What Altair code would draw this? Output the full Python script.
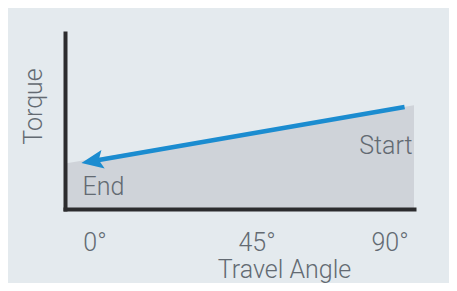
import json
import altair as alt
import pandas as pd

# ---- data ----
area_angle = [0, 100]
area_torque = [25.9, 59.0]

line_angle = [97.3, 7.6]
line_torque = [58.0, 27.1]

arrow_angle = [4.7]
arrow_torque = [26.1]

tick_pos = [8.45, 54.9, 93.0]
tick_labels = ["0°", "45°", "90°"]

note_text = ["Start", "End"]
note_angle = [99.6, 5.0]
note_torque = [31.2, 8.0]
note_align = ["right", "left"]

BG = "#e4eaee"
GRAY = "#cfd3d9"
BLUE = "#1b8cd0"
TXT = "#636a72"
AXC = "#2c2c2e"
FONT = "Roboto"
FS = 25

area_df = pd.DataFrame({"angle": area_angle, "torque": area_torque})
line_df = pd.DataFrame({"angle": line_angle, "torque": line_torque})
arrow_df = pd.DataFrame({"angle": arrow_angle, "torque": arrow_torque})
note_df = pd.DataFrame({"angle": note_angle, "torque": note_torque,
                        "text": note_text, "align": note_align})

xs = alt.Scale(domain=[0, 100], nice=False, zero=False)
ys = alt.Scale(domain=[0, 100], nice=False, zero=False)

label_expr = "%s[indexof(%s, datum.value)]" % (
    json.dumps(tick_labels, ensure_ascii=False), json.dumps(tick_pos))

x_axis = alt.Axis(
    title="Travel Angle", values=tick_pos, labelExpr=label_expr,
    ticks=False, tickSize=0, grid=False,
    domainColor=AXC, domainWidth=4, domainCap="square",
    labelFont=FONT, labelFontSize=FS, labelFontWeight=300, labelColor=TXT,
    labelBaseline="alphabetic", labelPadding=41, labelOverlap=False, labelFlush=False,
    titleFont=FONT, titleFontSize=FS, titleFontWeight=300, titleColor=TXT,
    titleBaseline="alphabetic", titleAlign="center", titleX=219, titleY=68,
    zindex=1,
)
y_axis = alt.Axis(
    title="Torque", labels=False, ticks=False, tickSize=0, grid=False,
    domainColor=AXC, domainWidth=4, domainCap="square",
    titleFont=FONT, titleFontSize=FS, titleFontWeight=300, titleColor=TXT,
    titleAngle=270, titleBaseline="alphabetic", titleAlign="center",
    titleX=-24, titleY=73, zindex=1,
)

X = alt.X("angle:Q", scale=xs, axis=x_axis)
Y = alt.Y("torque:Q", scale=ys, axis=y_axis)

area = alt.Chart(area_df).mark_area(color=GRAY, opacity=1).encode(x=X, y=Y)

line = alt.Chart(line_df).mark_line(
    color=BLUE, strokeWidth=4.5, strokeCap="butt").encode(x=X, y=Y)

arrow = alt.Chart(arrow_df).mark_point(
    shape="M0,0L2,-0.85L1.6,0L2,0.85Z", size=484, angle=350,
    filled=True, color=BLUE, opacity=1, strokeWidth=0,
).encode(x=X, y=Y)

notes = []
for al in ["right", "left"]:
    notes.append(
        alt.Chart(note_df).transform_filter(alt.datum.align == al).mark_text(
            align=al, baseline="alphabetic", font=FONT, fontSize=FS,
            fontWeight=300, color=TXT,
        ).encode(x=X, y=Y, text="text:N")
    )

chart = alt.layer(area, line, arrow, *notes).properties(
    width=349, height=176,
    autosize=alt.AutoSizeParams(type="none"),
    padding={"left": 57, "top": 25, "right": 35, "bottom": 74},
    background=BG,
).configure_view(strokeWidth=0)

chart.save("out.html", embed_options={"renderer": "svg", "actions": False})
